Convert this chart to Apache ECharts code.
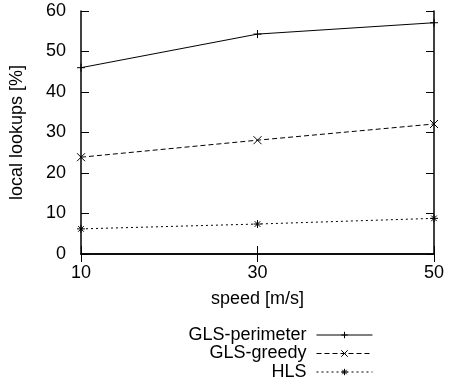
<!DOCTYPE html>
<html><head><meta charset="utf-8">
<script src="https://cdn.jsdelivr.net/npm/echarts@6/dist/echarts.min.js"></script>
<style>html,body{margin:0;padding:0;background:#fff}#c{width:449px;height:387px}</style>
</head><body><div id="c"></div>
<script>
const speeds = [10, 30, 50];
const glsPerimeter = [46.0, 54.3, 57.1];
const glsGreedy = [23.9, 28.1, 32.1];
const hls = [6.2, 7.4, 8.8];
const seriesNames = ['GLS-perimeter', 'GLS-greedy', 'HLS'];

const F = 'Liberation Sans, Arial, sans-serif';
const FS = 18;
const plus = 'path://M5,0L5,10M0,5L10,5';
const cross = 'path://M0,0L10,10M0,10L10,0';
const star = 'path://M5,0L5,10M0,5L10,5M1.5,1.5L8.5,8.5M1.5,8.5L8.5,1.5';
const symbols = [plus, cross, star];
const dashes = ['solid', [5, 3], [2, 3]];
const datas = [glsPerimeter, glsGreedy, hls];

const chart = echarts.init(document.getElementById('c'), null, {renderer: 'canvas'});
const axisLine = {show: true, lineStyle: {color: '#000', width: 1.5}};
const tick = {show: true, inside: true, length: 8, lineStyle: {color: '#000', width: 1}};
const series = seriesNames.map((n, i) => ({
  name: n, type: 'line', xAxisIndex: 0, yAxisIndex: 0,
  data: speeds.map((s, j) => [s, datas[i][j]]),
  symbol: symbols[i], symbolSize: 8,
  itemStyle: {color: '#000', borderColor: '#000', borderWidth: 1},
  lineStyle: {color: '#000', width: 1, type: dashes[i]},
  emphasis: {disabled: true}, animation: false
}));
const legends = seriesNames.map((n, i) => ({
  data: [n], right: 76, top: 326 + i * 18.5, align: 'right', itemWidth: 56, itemHeight: 8,
  textStyle: {fontFamily: F, fontSize: FS, color: '#000', padding: [0, 5, 0, 0]},
  lineStyle: {width: 1}, itemStyle: {borderWidth: 1},
  selectedMode: false, padding: 0
}));
chart.setOption({
  backgroundColor: '#fff',
  animation: false,
  grid: {left: 80, right: 15, top: 11, bottom: 133},
  legend: legends,
  xAxis: [
    {type: 'value', min: 10, max: 50, interval: 20, position: 'bottom',
     name: 'speed [m/s]', nameLocation: 'middle', nameGap: 36,
     nameTextStyle: {fontFamily: F, fontSize: FS, color: '#000'},
     axisLine, axisTick: tick, splitLine: {show: false},
     axisLabel: {fontFamily: F, fontSize: FS, color: '#000', margin: 10}},
    {type: 'value', min: 10, max: 50, interval: 20, position: 'top',
     axisLine, axisTick: tick, splitLine: {show: false}, axisLabel: {show: false}}
  ],
  yAxis: [
    {type: 'value', min: 0, max: 60, interval: 10, position: 'left',
     name: 'local lookups [%]', nameLocation: 'middle', nameGap: 55, nameRotate: 90,
     nameTextStyle: {fontFamily: F, fontSize: FS, color: '#000'},
     axisLine, axisTick: tick, splitLine: {show: false},
     axisLabel: {fontFamily: F, fontSize: FS, color: '#000', margin: 15}},
    {type: 'value', min: 0, max: 60, interval: 10, position: 'right',
     axisLine, axisTick: tick, splitLine: {show: false}, axisLabel: {show: false}}
  ],
  series
});
</script></body></html>
